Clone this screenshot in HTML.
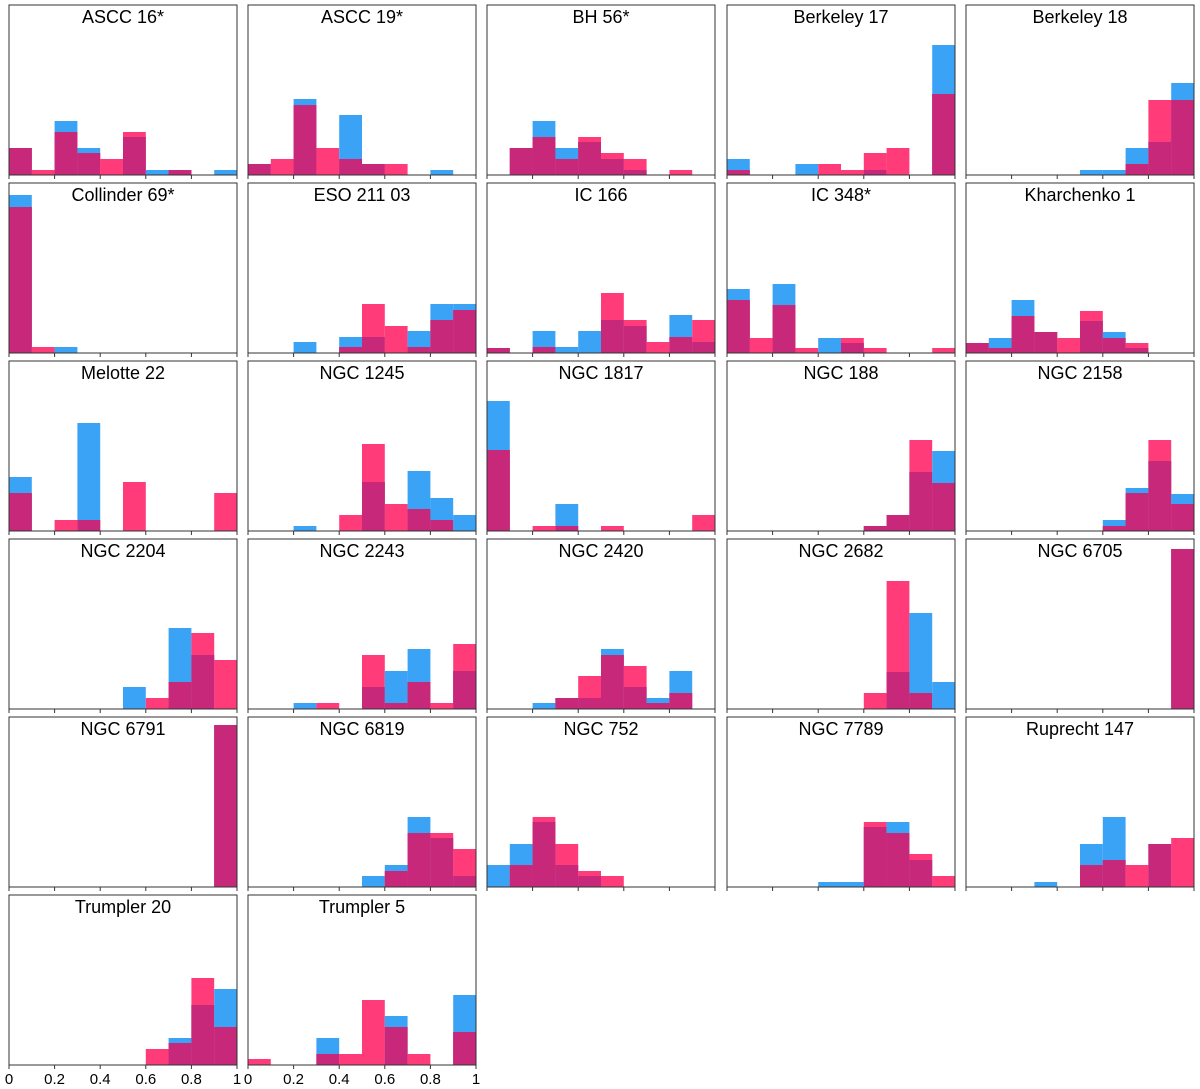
<!DOCTYPE html>
<html><head><meta charset="utf-8"><style>
body{margin:0;background:#fff;}
svg{display:block;font-family:"Liberation Sans",sans-serif;}
</style></head><body>
<svg id="c" width="1200" height="1089" xmlns="http://www.w3.org/2000/svg"></svg>
<script>
const titles=["ASCC 16*","ASCC 19*","BH 56*","Berkeley 17","Berkeley 18","Collinder 69*","ESO 211 03","IC 166","IC 348*","Kharchenko 1","Melotte 22","NGC 1245","NGC 1817","NGC 188","NGC 2158","NGC 2204","NGC 2243","NGC 2420","NGC 2682","NGC 6705","NGC 6791","NGC 6819","NGC 752","NGC 7789","Ruprecht 147","Trumpler 20","Trumpler 5"];
const blueVals=[
[27,0,54,27,0,38,5,5,0,5],[11,0,76,0,60,11,0,0,5,0],[0,27,54,27,33,16,5,0,0,0],[16,0,0,11,0,0,5,0,0,130],[0,0,0,0,0,5,5,27,33,92],
[158,0,6,0,0,0,0,0,0,0],[0,0,11,0,16,16,0,22,49,49],[5,0,22,6,22,33,27,0,38,11],[64,0,69,0,15,10,0,0,0,0],[10,15,53,21,0,32,21,5,0,0],
[54,0,0,108,0,0,0,0,0,0],[0,0,5,0,0,49,0,60,33,16],[130,0,0,27,0,0,0,0,0,0],[0,0,0,0,0,0,5,16,59,80],[0,0,0,0,0,0,11,43,70,37],
[0,0,0,0,0,22,0,81,54,0],[0,0,6,0,0,22,38,60,0,38],[0,0,6,11,11,60,22,11,38,0],[0,0,0,0,0,0,0,37,96,27],[0,0,0,0,0,0,0,0,0,160],
[0,0,0,0,0,0,0,0,0,162],[0,0,0,0,0,11,22,70,49,11],[22,43,65,22,11,0,0,0,0,0],[0,0,0,0,5,5,60,65,27,0],[0,0,0,5,0,43,70,0,43,0],
[0,0,0,0,0,0,0,27,60,76],[0,0,0,27,0,0,49,0,0,70]];
const pinkVals=[
[27,5,43,22,16,43,0,5,0,0],[11,16,70,27,16,11,11,0,0,0],[0,27,38,16,38,22,16,0,5,0],[5,0,0,0,11,5,22,27,0,81],[0,0,0,0,0,0,0,11,75,75],
[146,6,0,0,0,0,0,0,0,0],[0,0,0,0,6,49,27,6,33,43],[5,0,6,0,0,60,33,11,16,33],[53,15,48,5,0,15,5,0,0,5],[10,5,37,21,15,42,15,10,0,0],
[38,0,11,11,0,49,0,0,0,38],[0,0,0,0,16,87,27,22,11,0],[81,0,5,5,0,5,0,0,0,16],[0,0,0,0,0,0,5,16,91,48],[0,0,0,0,0,0,5,38,91,27],
[0,0,0,0,0,0,11,27,76,49],[0,0,0,6,0,54,6,27,6,65],[0,0,0,11,33,54,43,6,16,0],[0,0,0,0,0,0,16,128,16,0],[0,0,0,0,0,0,0,0,0,160],
[0,0,0,0,0,0,0,0,0,162],[0,0,0,0,0,0,16,54,54,38],[0,22,70,43,16,11,0,0,0,0],[0,0,0,0,0,0,65,54,33,11],[0,0,0,0,0,22,27,22,43,49],
[0,0,0,0,0,0,16,22,87,38],[6,0,0,11,11,65,38,11,0,33]];
const xTicks=[0,0.2,0.4,0.6,0.8,1];
const tickLabels=["0","0.2","0.4","0.6","0.8","1"];
const YMAX=170;
const NS="http://www.w3.org/2000/svg";
const svg=document.getElementById('c');
function mk(t,a){const e=document.createElementNS(NS,t);for(const k in a)e.setAttribute(k,a[k]);return e;}
const colX=[9,248,487,727,966], rowY=[5,183,361,539,717,895], W=228, H=170;
titles.forEach((t,i)=>{
  const x0=colX[i%5], y0=rowY[Math.floor(i/5)];
  const g=mk('g',{});
  
  
  svg.appendChild(g);
  const xs=v=>x0+v*W, ys=v=>y0+H-v/YMAX*H;
  const bw=W/10;
  for(let b=0;b<10;b++){
    const bv=blueVals[i][b], pv=pinkVals[i][b], xl=xs(b/10);
    if(bv>0){const r=mk('rect',{x:xl,y:ys(bv),width:bw,height:H-ys(bv)+y0,fill:'#3ba3f5'});
      g.appendChild(r);}
    if(pv>0){const r=mk('rect',{x:xl,y:ys(pv),width:bw,height:H-ys(pv)+y0,fill:'#ff3b7a'});
      g.appendChild(r);}
    const m=Math.min(bv,pv);
    if(m>0){const r=mk('rect',{x:xl,y:ys(m),width:bw,height:H-ys(m)+y0,fill:'#c7287a'});
      g.appendChild(r);}
  }
  const fr=mk('rect',{x:x0,y:y0,width:W,height:H,fill:'none',stroke:'#333','stroke-width':1});
  g.appendChild(fr);
  const tt=mk('text',{x:x0+W/2,y:y0+18,'text-anchor':'middle','font-size':18,fill:'#000'});
  tt.textContent=t;g.appendChild(tt);
  const showLab = i>=25;
  xTicks.forEach((v,k)=>{
    const tk=mk('line',{x1:xs(v),x2:xs(v),y1:y0+H,y2:y0+H+4,stroke:'#333','stroke-width':1});
    g.appendChild(tk);
    if(showLab){const l=mk('text',{x:xs(v),y:y0+H+19,'text-anchor':'middle','font-size':15,fill:'#000'});
      l.textContent=tickLabels[k];g.appendChild(l);}
  });
});
</script>
</body></html>
